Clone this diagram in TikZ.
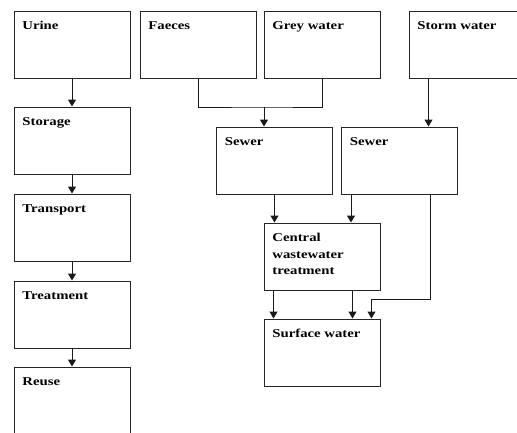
\documentclass[tikz,border=0pt]{standalone}
\usepackage{fontspec}
\setmainfont{Liberation Serif}[FakeStretch=1.23]
\usetikzlibrary{arrows.meta}

\begin{document}
\begin{tikzpicture}[x=1pt,y=-1pt,
  box/.style={draw=black!85,line width=1pt,minimum width=116pt,minimum height=67pt,inner sep=0pt},
  txt/.style={anchor=base west,inner sep=0pt,align=left,font=\fontsize{12}{16.7}\selectfont\bfseries},
  link/.style={draw=black!90,line width=1pt},
  arr/.style={link,-{Triangle[width=8pt,length=7pt]}}]
\useasboundingbox (0,0) rectangle (517,432);

% urine chain
\node[box] (urine) at (72,44.5) {};
\node[box] (storage) at (72,140.5) {};
\node[box] (transport) at (72,227.5) {};
\node[box] (treatment) at (72,314.5) {};
\node[box] (reuse) at (72,400.5) {};

% sewer side
\node[box] (faeces) at (198,44.5) {};
\node[box] (grey) at (322,44.5) {};
\node[box] (storm) at (467,44.5) {};
\node[box] (sewerA) at (274.5,160.5) {};
\node[box] (sewerB) at (399.5,160.5) {};
\node[box] (central) at (322,256.5) {};
\node[box] (surface) at (322,352.5) {};

% labels
\node[txt] (urine-t) at ([shift={(8.7,19)}]urine.north west) {Urine};
\node[txt] (storage-t) at ([shift={(8.7,19)}]storage.north west) {Storage};
\node[txt] (transport-t) at ([shift={(8.7,19)}]transport.north west) {Transport};
\node[txt] (treatment-t) at ([shift={(8.7,19)}]treatment.north west) {Treatment};
\node[txt] (reuse-t) at ([shift={(8.7,19)}]reuse.north west) {Reuse};
\node[txt] (faeces-t) at ([shift={(8.7,19)}]faeces.north west) {Faeces};
\node[txt] (grey-t) at ([shift={(8.7,19)}]grey.north west) {Grey water};
\node[txt] (storm-t) at ([shift={(8.7,19)}]storm.north west) {Storm water};
\node[txt] (sewerA-t) at ([shift={(8.7,19)}]sewerA.north west) {Sewer};
\node[txt] (sewerB-t) at ([shift={(8.7,19)}]sewerB.north west) {Sewer};
\node[txt] (central-t) at ([shift={(8.7,52.4)}]central.north west) {Central\\wastewater\\treatment};
\node[txt] (surface-t) at ([shift={(8.7,19)}]surface.north west) {Surface water};

% urine arrows
\draw[arr] (urine.south) -- (storage.north);
\draw[arr] (storage.south) -- (transport.north);
\draw[arr] (transport.south) -- (treatment.north);
\draw[arr] (treatment.south) -- (reuse.north);

% faeces + grey water into sewer
\coordinate (fg) at (264,107);
\draw[link] (faeces.south) |- (fg) -| (grey.south);
\draw[arr] (fg) -- (fg |- sewerA.north);

% storm water into sewer
\draw[arr] ([xshift=20pt]storm.south west) coordinate (sw) -- (sw |- sewerB.north);

% sewers into treatment
\draw[arr] (sewerA.south) -- (sewerA.south |- central.north);
\draw[arr] ([xshift=10pt]sewerB.south west) coordinate (sb) -- (sb |- central.north);

% treatment into surface water
\draw[arr] ([xshift=10pt]central.south west) coordinate (ca) -- (ca |- surface.north);
\draw[arr] ([xshift=-28pt]central.south east) coordinate (cb) -- (cb |- surface.north);

% storm sewer overflow
\coordinate (ov) at ([xshift=-9pt]surface.north east);
\draw[arr] ([xshift=-28pt]sewerB.south east) |- ([yshift=19pt]ov) -- (ov);
\end{tikzpicture}
\end{document}
